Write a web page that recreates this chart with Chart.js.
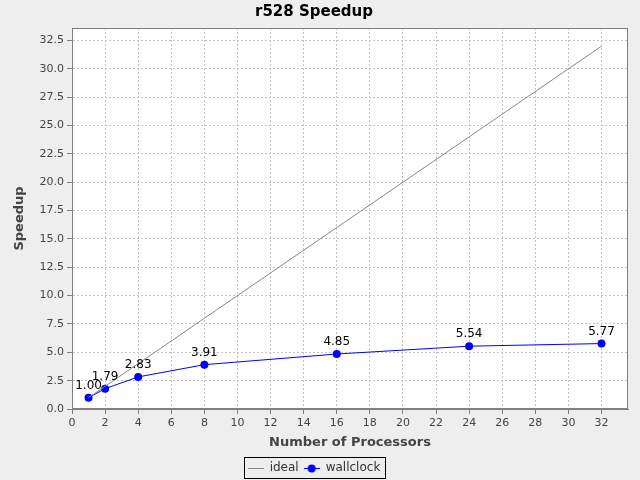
<!DOCTYPE html>
<html>
<head>
<meta charset="utf-8">
<script src="https://cdn.jsdelivr.net/npm/chart.js@4.4.0/dist/chart.umd.min.js"></script>
<style>
  html, body { margin: 0; padding: 0; background: #eeeeee; }
  #wrap { width: 640px; height: 480px; }
</style>
</head>
<body>
<div id="wrap"><canvas id="c" width="640" height="480"></canvas></div>
<script>
const chartTitle = "r528 Speedup";
const xTitle = "Number of Processors";
const yTitle = "Speedup";
const processors = [1, 2, 4, 8, 16, 24, 32];
const idealSpeedup = [1, 2, 4, 8, 16, 24, 32];
const wallclockSpeedup = [1.00, 1.79, 2.83, 3.91, 4.85, 5.54, 5.77];
const wallclockLabels = ["1.00", "1.79", "2.83", "3.91", "4.85", "5.54", "5.77"];
const seriesNames = ["ideal", "wallclock"];
const xTickValues = [0, 2, 4, 6, 8, 10, 12, 14, 16, 18, 20, 22, 24, 26, 28, 30, 32];
const yTickValues = [0, 2.5, 5, 7.5, 10, 12.5, 15, 17.5, 20, 22.5, 25, 27.5, 30, 32.5];
const axisMax = 33.6;

const FONT = "'DejaVu Sans', 'Lucida Sans', sans-serif";

function legendIcon(withDot, color) {
  const c = document.createElement('canvas');
  c.width = 16; c.height = 10;
  const g = c.getContext('2d');
  g.strokeStyle = color; g.lineWidth = 1;
  g.beginPath(); g.moveTo(0, 5.5); g.lineTo(16, 5.5); g.stroke();
  if (withDot) {
    g.fillStyle = color;
    g.beginPath(); g.arc(8, 5.5, 4, 0, Math.PI * 2); g.fill();
  }
  return c;
}
const icons = [legendIcon(false, '#888888'), legendIcon(true, '#0000ff')];

const bgPlugin = {
  id: 'bgPlugin',
  beforeDraw(chart) {
    const {ctx, chartArea: a} = chart;
    ctx.save();
    ctx.fillStyle = '#eeeeee';
    ctx.fillRect(0, 0, chart.width, chart.height);
    ctx.fillStyle = '#ffffff';
    ctx.fillRect(a.left, a.top, a.right - a.left, a.bottom - a.top);
    ctx.restore();
  },
  afterDatasetsDraw(chart) {
    const {ctx, chartArea: a} = chart;
    ctx.save();
    ctx.strokeStyle = '#808080';
    ctx.lineWidth = 1;
    ctx.strokeRect(a.left + 0.5, a.top + 0.5, a.right - a.left - 1, a.bottom - a.top - 1);
    const meta = chart.getDatasetMeta(1);
    ctx.fillStyle = '#000000';
    ctx.font = "12px " + FONT;
    ctx.textAlign = 'center';
    ctx.textBaseline = 'alphabetic';
    meta.data.forEach((pt, i) => {
      ctx.fillText(wallclockLabels[i], pt.x, pt.y - 9);
    });
    const lg = chart.legend;
    if (lg && lg.legendHitBoxes && lg.legendHitBoxes.length) {
      const boxes = lg.legendHitBoxes;
      const l = Math.min(...boxes.map(b => b.left)) - 4;
      const r = Math.max(...boxes.map(b => b.left + b.width)) + 4;
      const t = Math.min(...boxes.map(b => b.top)) - 5;
      const btm = Math.max(...boxes.map(b => b.top + b.height)) + 4;
      ctx.strokeStyle = '#000000';
      ctx.strokeRect(Math.round(l) + 0.5, Math.round(t) + 0.5, Math.round(r - l), Math.round(btm - t));
    }
    ctx.restore();
  }
};

function setTicks(values) {
  return function(scale) {
    scale.ticks = values.map(v => ({value: v}));
  };
}

const gridOpts = {
  color: '#c4c4c4',
  tickBorderDash: [],
  tickColor: '#808080',
  tickLength: 5,
  drawTicks: true
};

new Chart(document.getElementById('c'), {
  type: 'line',
  data: {
    datasets: [
      {
        label: seriesNames[0],
        data: processors.map((p, i) => ({x: p, y: idealSpeedup[i]})),
        borderColor: '#888888',
        backgroundColor: '#888888',
        borderWidth: 1,
        pointRadius: 0,
        pointHoverRadius: 0,
        tension: 0
      },
      {
        label: seriesNames[1],
        data: processors.map((p, i) => ({x: p, y: wallclockSpeedup[i]})),
        borderColor: '#0000ff',
        backgroundColor: '#0000ff',
        borderWidth: 1,
        pointRadius: 4,
        pointBorderWidth: 0,
        pointBackgroundColor: '#0000ff',
        tension: 0
      }
    ]
  },
  options: {
    responsive: false,
    animation: false,
    devicePixelRatio: 1,
    layout: { padding: { left: 0, right: 12, top: 0, bottom: -4 } },
    plugins: {
      tooltip: { enabled: false },
      title: {
        display: true,
        text: chartTitle,
        color: '#000000',
        font: { family: FONT, size: 15, weight: 'bold' },
        padding: { top: 3, bottom: 7 }
      },
      legend: {
        display: true,
        position: 'bottom',
        labels: {
          usePointStyle: true,
          pointStyleWidth: 16,
          padding: 5,
          color: '#333333',
          font: { family: FONT, size: 12 },
          generateLabels(chart) {
            return chart.data.datasets.map((ds, i) => ({
              text: ds.label,
              fillStyle: ds.borderColor,
              strokeStyle: ds.borderColor,
              lineWidth: 0,
              pointStyle: icons[i],
              datasetIndex: i,
              hidden: false,
              fontColor: '#333333'
            }));
          }
        }
      }
    },
    scales: {
      x: {
        type: 'linear',
        min: 0,
        max: axisMax,
        afterBuildTicks: setTicks(xTickValues),
        afterFit(scale) { scale.height = 48; },
        ticks: {
          autoSkip: false,
          maxRotation: 0,
          padding: 3,
          color: '#444444',
          font: { family: FONT, size: 11 },
          callback: v => String(v)
        },
        grid: gridOpts,
        border: { display: true, color: '#808080', dash: [2, 2] },
        title: {
          display: true,
          text: xTitle,
          color: '#444444',
          font: { family: FONT, size: 13, weight: 'bold' },
          padding: { top: 0, bottom: 7 }
        }
      },
      y: {
        type: 'linear',
        min: 0,
        max: axisMax,
        afterBuildTicks: setTicks(yTickValues),
        afterFit(scale) { scale.width = 72; },
        ticks: {
          autoSkip: false,
          padding: 3,
          color: '#444444',
          font: { family: FONT, size: 11 },
          callback: v => Number(v).toFixed(1)
        },
        grid: gridOpts,
        border: { display: true, color: '#808080', dash: [2, 2] },
        title: {
          display: true,
          text: yTitle,
          color: '#444444',
          font: { family: FONT, size: 13, weight: 'bold' },
          padding: { top: 12, bottom: 0 }
        }
      }
    }
  },
  plugins: [bgPlugin]
});
</script>
</body>
</html>
